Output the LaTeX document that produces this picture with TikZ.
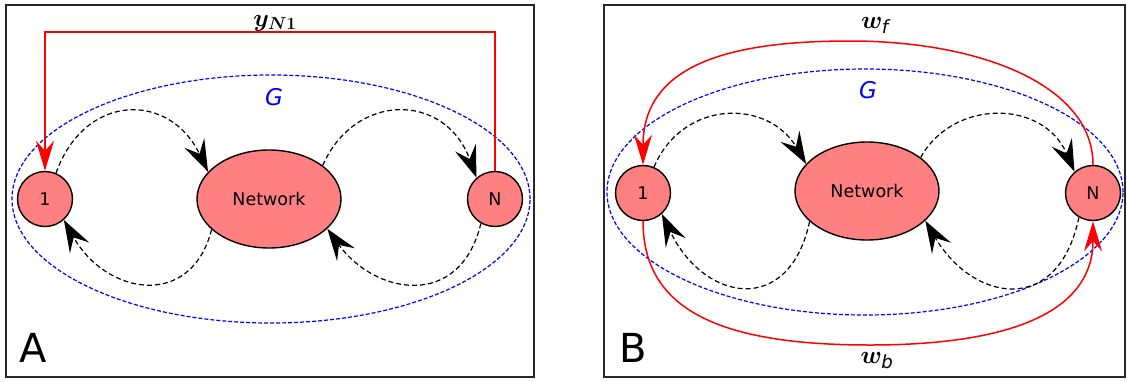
\documentclass[tikz,border=0pt]{standalone}
\usepackage{amsmath,bm}
\usepackage{fontspec}
\newfontfamily\dejavu{DejaVu Sans}
\usetikzlibrary{arrows.meta,shapes.geometric}
\definecolor{nodefill}{RGB}{255,128,128}
\definecolor{framecol}{RGB}{40,40,40}
\begin{document}
\begin{tikzpicture}[x=1pt,y=1pt,
  circ/.style={circle,draw=black,line width=1.4pt,fill=nodefill,minimum size=55pt,inner sep=0pt,
    font=\dejavu\fontsize{17.5}{20}\selectfont},
  netw/.style={ellipse,draw=black,line width=1.4pt,fill=nodefill,minimum width=144pt,minimum height=98pt,inner sep=0pt,
    font=\dejavu\fontsize{17.5}{20}\selectfont},
  headblack/.tip={Stealth[length=32pt,width=22pt,inset=12pt]},
  headred/.tip={Stealth[length=30pt,width=18pt,inset=10pt]},
  flow/.style={draw=black,line width=1.2pt,dash pattern=on 5pt off 3pt,-headblack},
  fb/.style={draw=red,line width=1.5pt,-headred},
  gset/.style={draw=blue,line width=1.2pt,dash pattern=on 4pt off 2pt},
  panel/.style={draw=framecol,line width=1.5pt},
  glab/.style={text=blue,font=\dejavu\itshape\fontsize{23}{26}\selectfont,inner sep=0pt},
  mlab/.style={font=\fontsize{26}{30}\selectfont,inner sep=0pt,anchor=base},
  plab/.style={font=\dejavu\fontsize{40}{44}\selectfont,inner sep=0pt,anchor=base west}
]
\useasboundingbox (0,0) rectangle (1127,-381);
% frames
\draw[panel] (6,-5) rectangle (534,-377);
\draw[panel] (604,-5) rectangle (1125,-377);

% ---------- Panel A ----------
\draw[gset] (271,-199) ellipse [x radius=259, y radius=124];
\node[glab] (gA) at (274,-97) {G};
\node[circ] (n1A) at (45,-199) {1};
\node[netw] (netA) at (269,-199) {Network};
\node[circ] (nNA) at (495,-199) {N};
\draw[flow] (n1A.67) .. controls (85,-92) and (170,-92) .. (netA.156);
\draw[flow] (netA.208) .. controls (191,-310) and (106,-295) .. (n1A.-48);
\draw[flow] (netA.32) .. controls (355,-92) and (445,-92) .. (nNA.131);
\draw[flow] (nNA.240) .. controls (460,-310) and (375,-295) .. (netA.-27);
\coordinate (topA) at (270,-32);
\draw[fb] (nNA.north) |- (topA) -| (n1A.north);
\node[mlab] (yA) at (275,-26) {$\boldsymbol{y}_{\boldsymbol{N1}}$};
\node[plab] (labA) at (19,-362) {A};

% ---------- Panel B ----------
\draw[gset] (865,-192) ellipse [x radius=258, y radius=123];
\node[glab] (gB) at (868,-90) {G};
\node[circ] (n1B) at (643,-193) {1};
\node[netw] (netB) at (867,-191) {Network};
\node[circ] (nNB) at (1093,-193) {N};
\draw[flow] (n1B.67) .. controls (683,-99) and (768,-99) .. (netB.156);
\draw[flow] (netB.208) .. controls (789,-317) and (704,-302) .. (n1B.-48);
\draw[flow] (netB.32) .. controls (953,-99) and (1043,-99) .. (nNB.131);
\draw[flow] (nNB.240) .. controls (1058,-317) and (973,-302) .. (netB.-27);
\coordinate (topB) at (850,-41);
\coordinate (botB) at (870,-345);
\draw[fb] (nNB.north) .. controls (1093,-85) and (980,-41) .. (topB)
          .. controls (740,-41) and (643,-60) .. (n1B.north);
\draw[fb] (n1B.south) .. controls (643,-310) and (720,-345) .. (botB)
          .. controls (1015,-345) and (1093,-310) .. (nNB.south);
\node[mlab] (wf) at (875,-28) {$\boldsymbol{w}_{\text{\dejavu\itshape f}}$};
\node[mlab] (wb) at (877,-363) {$\boldsymbol{w}_{\text{\dejavu\itshape b}}$};
\node[plab] (labB) at (619,-362) {B};
\end{tikzpicture}
\end{document}
